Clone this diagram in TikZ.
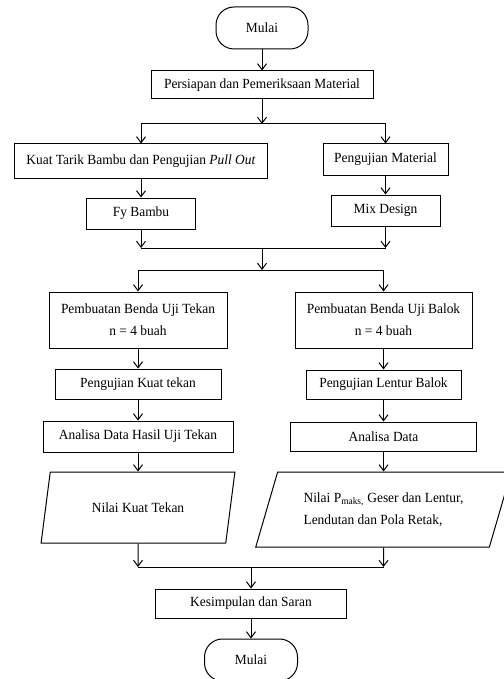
\documentclass[tikz,border=0pt]{standalone}
\usepackage{fontspec}
\setmainfont[FakeStretch=0.96]{Liberation Serif}
\usetikzlibrary{arrows.meta,shapes.geometric}

\begin{document}
\begin{tikzpicture}[x=1pt,y=-1pt,
  font=\fontsize{14}{22}\selectfont,
  kotak/.style={draw,line width=1pt,inner sep=0pt,align=center},
  terminal/.style={kotak,rounded corners=18pt,minimum width=92pt,minimum height=42pt},
  masukan/.style={draw,line width=1pt,trapezium,trapezium left angle=64,trapezium right angle=116,trapezium stretches=true,inner sep=0pt},
  panah/.style={line width=1pt,-{Straight Barb[length=6pt,width=9pt]}},
  garis/.style={line width=1pt}]
\useasboundingbox (0,0) rectangle (503,679);
\node[terminal] (mulai) at (262,28) {Mulai};
\node[kotak,minimum width=222pt,minimum height=28pt] (persiapan) at (262,85) {Persiapan dan Pemeriksaan Material};
\coordinate (cabang1) at (262,124);
\node[kotak,minimum width=253pt,minimum height=34pt] (tarik) at (141,161) {Kuat Tarik Bambu dan Pengujian \textit{Pull Out}};
\node[kotak,minimum width=125pt,minimum height=31pt] (uji) at (385.5,159.5) {Pengujian Material};
\node[kotak,minimum width=109pt,minimum height=31pt] (fy) at (141,213.5) {Fy Bambu};
\node[kotak,minimum width=109pt,minimum height=31pt] (mix) at (385.5,210.5) {Mix Design};
\coordinate (gabung1) at (262,248);
\coordinate (cabang2) at (262,270);
\node[kotak,minimum width=178pt,minimum height=56pt] (tekan) at (138,320) {Pembuatan Benda Uji Tekan\\n = 4 buah};
\node[kotak,minimum width=177pt,minimum height=56pt] (balok) at (383.5,320) {Pembuatan Benda Uji Balok\\n = 4 buah};
\node[kotak,minimum width=166pt,minimum height=30pt] (ujitekan) at (138,384) {Pengujian Kuat tekan};
\node[kotak,minimum width=155pt,minimum height=29pt] (ujilentur) at (383.5,384.5) {Pengujian Lentur Balok};
\node[kotak,minimum width=190pt,minimum height=31pt] (analisa1) at (138,436.5) {Analisa Data Hasil Uji Tekan};
\node[kotak,minimum width=186pt,minimum height=29pt] (analisa2) at (383.5,436.5) {Analisa Data};
\node[masukan,minimum width=194pt,minimum height=71pt] (nilai1) at (138,507.5) {Nilai Kuat Tekan};
\node[masukan,minimum width=256pt,minimum height=75pt,align=left] (nilai2) at (383.5,509.5) {Nilai P\textsubscript{maks,} Geser dan Lentur,\\Lendutan dan Pola Retak,};
\coordinate (gabung2) at (251,567);
\node[kotak,minimum width=191pt,minimum height=29pt] (simpulan) at (251,603.5) {Kesimpulan dan Saran};
\node[terminal,minimum width=93pt] (selesai) at (251,660) {Mulai};

\draw[panah] (mulai) -- (persiapan);
\draw[panah] (persiapan) -- (cabang1);
\draw[panah] (cabang1) -| (tarik.north);
\draw[panah] (cabang1) -| (uji.north);
\draw[panah] (tarik) -- (fy);
\draw[panah] (uji) -- (mix);
\draw[panah] (fy) -- (fy |- gabung1);
\draw[panah] (mix) -- (mix |- gabung1);
\draw[garis] (fy |- gabung1) -- (mix |- gabung1);
\draw[panah] (gabung1) -- (cabang2);
\draw[panah] (cabang2) -| (tekan.north);
\draw[panah] (cabang2) -| (balok.north);
\draw[panah] (tekan) -- (ujitekan);
\draw[panah] (ujitekan) -- (analisa1);
\draw[panah] (analisa1) -- (nilai1);
\draw[panah] (balok) -- (ujilentur);
\draw[panah] (ujilentur) -- (analisa2);
\draw[panah] (analisa2) -- (nilai2);
\draw[panah] (nilai1) -- (nilai1 |- gabung2);
\draw[panah] (nilai2) -- (nilai2 |- gabung2);
\draw[garis] (nilai1 |- gabung2) -- (nilai2 |- gabung2);
\draw[panah] (gabung2) -- (simpulan);
\draw[panah] (simpulan) -- (selesai);
\end{tikzpicture}
\end{document}
